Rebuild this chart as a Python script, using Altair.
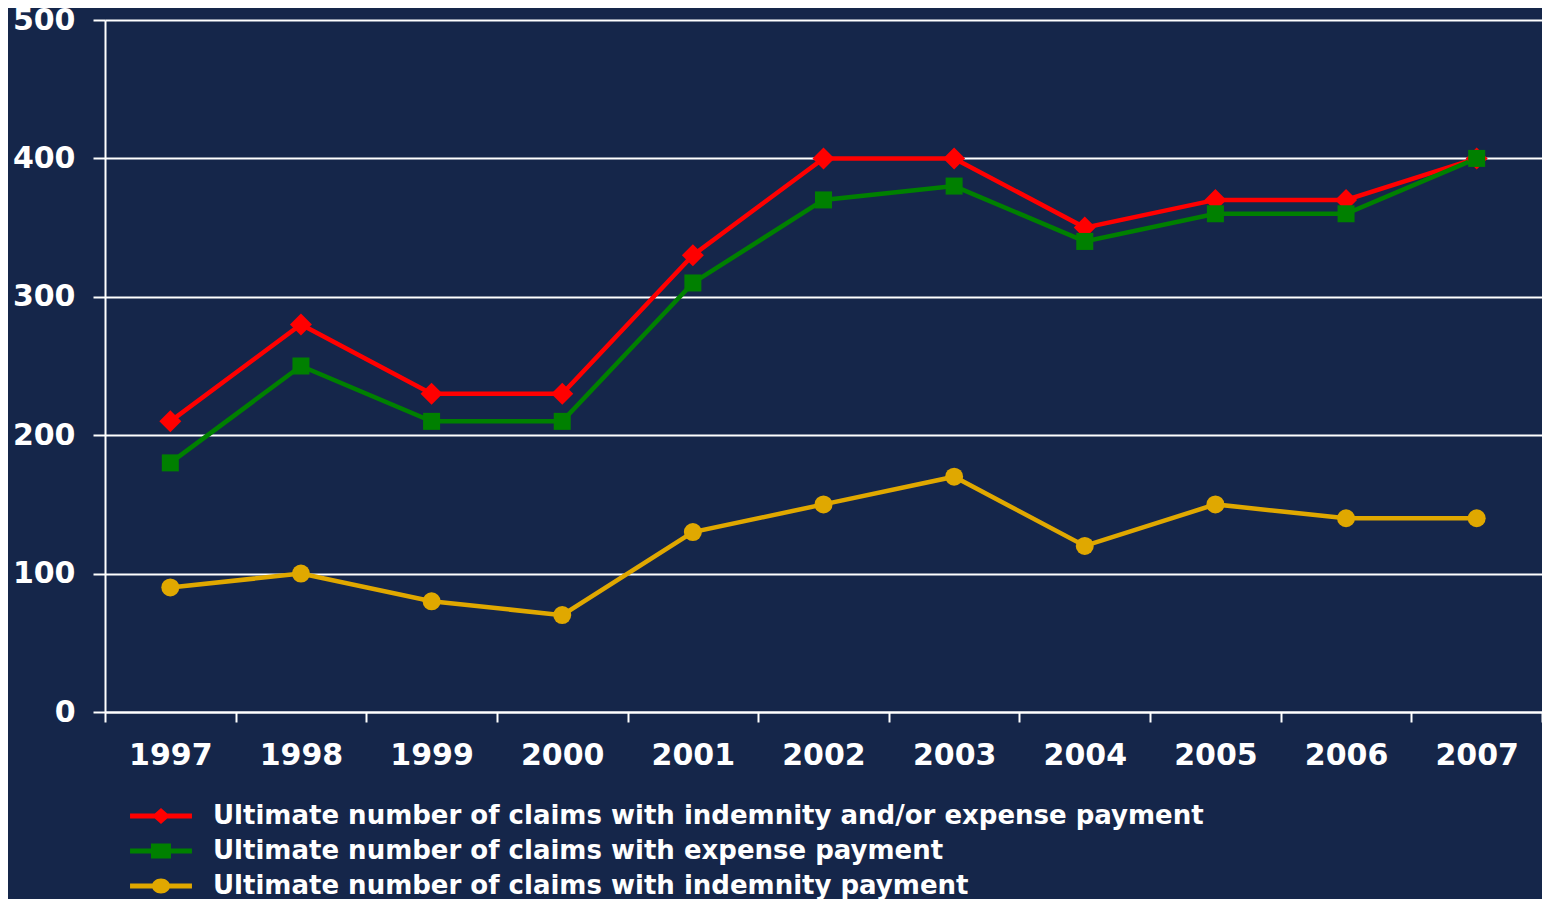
import altair as alt
import pandas as pd

years = ["1997", "1998", "1999", "2000", "2001", "2002", "2003", "2004", "2005", "2006", "2007"]
series_names = [
    "Ultimate number of claims with indemnity and/or expense payment",
    "Ultimate number of claims with expense payment",
    "Ultimate number of claims with indemnity payment",
]
total_claims = [210, 280, 230, 230, 330, 400, 400, 350, 370, 370, 400]
expense_claims = [180, 250, 210, 210, 310, 370, 380, 340, 360, 360, 400]
indemnity_claims = [90, 100, 80, 70, 130, 150, 170, 120, 150, 140, 140]
y_ticks = [0, 100, 200, 300, 400, 500]

colors = ["#ff0000", "#008000", "#e0a800"]
marker_shapes = ["diamond", "square", "circle"]
marker_sizes = [484, 289, 324]
legend_shapes = [
    "M-1.72,-0.139L1.72,-0.139L1.72,0.139L-1.72,0.139Z M0,-0.444L0.5,0L0,0.444L-0.5,0Z",
    "M-1.72,-0.139L1.72,-0.139L1.72,0.139L-1.72,0.139Z M-0.556,-0.417L0.556,-0.417L0.556,0.417L-0.556,0.417Z",
    "M-1.72,-0.139L1.72,-0.139L1.72,0.139L-1.72,0.139Z M-0.5,0A0.5,0.417 0 1,1 0.5,0A0.5,0.417 0 1,1 -0.5,0Z",
]
legend_rows_y = [778, 813, 848]

rows = []
for name, vals in zip(series_names, [total_claims, expense_claims, indemnity_claims]):
    for yr, v in zip(years, vals):
        rows.append({"year": yr, "value": v, "series": name})
df = pd.DataFrame(rows)

FONT = "DejaVu Sans"
BG = "#15264a"

x_enc = alt.X(
    "year:O",
    sort=years,
    scale=alt.Scale(type="band", paddingInner=0, paddingOuter=0),
    axis=alt.Axis(
        title=None, labelAngle=0, tickBand="extent", tickSize=10, tickWidth=2,
        tickColor="white", domainColor="white", domainWidth=2,
        labelFont=FONT, labelFontSize=30, labelFontWeight="bold", labelColor="white",
        labelPadding=18, grid=False,
    ),
)
y_enc = alt.Y(
    "value:Q",
    scale=alt.Scale(domain=[0, 500], nice=False),
    axis=alt.Axis(
        title=None, values=y_ticks, tickSize=12, tickWidth=2, tickColor="white",
        domainColor="white", domainWidth=2, grid=True, gridColor="white", gridWidth=2,
        gridOpacity=1, labelFont=FONT, labelFontSize=30, labelFontWeight="bold",
        labelColor="white", labelPadding=18,
    ),
)
color_scale = alt.Scale(domain=series_names, range=colors)

base = alt.Chart(df)

lines = base.mark_line(strokeWidth=4.5).encode(
    x=x_enc, y=y_enc,
    color=alt.Color("series:N", scale=color_scale, legend=None),
    detail="series:N",
)

point_layers = []
for name, shp, sz in zip(series_names, marker_shapes, marker_sizes):
    point_layers.append(
        base.transform_filter(alt.datum.series == name)
        .mark_point(filled=True, opacity=1, shape=shp, size=sz)
        .encode(
            x=x_enc, y=y_enc,
            color=alt.Color("series:N", scale=color_scale, legend=None),
        )
    )

legend_layers = []
for name, col, path, ly in zip(series_names, colors, legend_shapes, legend_rows_y):
    legend_layers.append(
        base.transform_filter(alt.datum.series == name)
        .mark_point(filled=True, opacity=0, color=col)
        .encode(
            x=x_enc, y=y_enc,
            shape=alt.Shape(
                "series:N",
                scale=alt.Scale(domain=[name], range=[path]),
                legend=alt.Legend(
                    title=None, orient="none", legendX=25, legendY=ly, direction="vertical",
                    symbolSize=1296, symbolStrokeWidth=0, symbolOpacity=1, symbolOffset=13,
                    symbolFillColor=col,
                    labelFont=FONT, labelFontSize=26, labelFontWeight="bold", labelColor="white",
                    labelOffset=34, padding=0, labelLimit=2000,
                ),
            ),
        )
    )

chart = (
    alt.layer(lines, *point_layers, *legend_layers)
    .resolve_scale(shape="independent")
    .properties(
        width=1437, height=692, background=BG,
        autosize=alt.AutoSizeParams(type="none"),
        padding={"left": 97, "top": 12, "right": 0, "bottom": 187},
    )
    .configure_view(stroke=None)
)

chart.save("out.html", embed_options={"renderer": "svg", "actions": False})
